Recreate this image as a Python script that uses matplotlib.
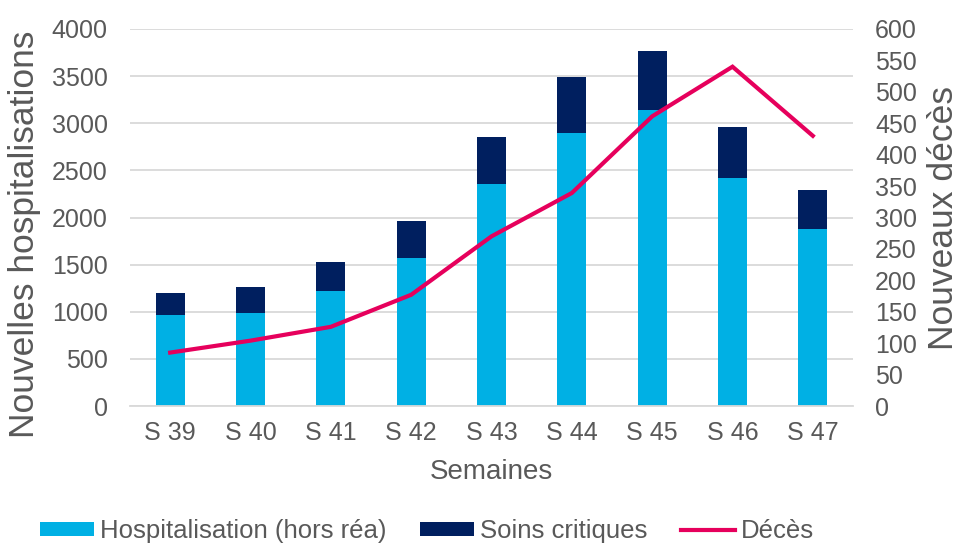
import matplotlib
matplotlib.use("Agg")
import matplotlib.pyplot as plt
from matplotlib.patches import Patch
from matplotlib.lines import Line2D
from matplotlib import font_manager

weeks = ["S 39", "S 40", "S 41", "S 42", "S 43", "S 44", "S 45", "S 46", "S 47"]
hospitalisation = [962, 983, 1224, 1574, 2355, 2900, 3141, 2423, 1878]
soins_critiques = [238, 283, 301, 389, 499, 587, 629, 541, 410]
deces = [85, 104, 126, 177, 270, 339, 461, 540, 430]

names = {f.name for f in font_manager.fontManager.ttflist}
main_font = "Liberation Sans" if "Liberation Sans" in names else "DejaVu Sans"
plt.rcParams["font.family"] = [main_font, "DejaVu Sans"]

TXT = "#595959"
LIGHT = "#00B0E4"
DARK = "#001F5F"
RED = "#E6005C"
GRID = "#D9D9D9"

fig = plt.figure(figsize=(9.6, 5.44), dpi=100)
ax = fig.add_axes([130/960, 1-406/544, (853-130)/960, (406-29)/544])
x = list(range(len(weeks)))
w = 0.36
ax.bar(x, hospitalisation, width=w, color=LIGHT, zorder=2)
ax.bar(x, soins_critiques, width=w, bottom=hospitalisation, color=DARK, zorder=2)
ax.set_ylim(0, 4000)
ax.set_xlim(-0.5, len(weeks)-0.5)
ax.set_yticks(range(0, 4001, 500))
ax.yaxis.grid(True, color=GRID, linewidth=1.3, zorder=0)
ax.set_axisbelow(True)
for s in ["top", "right", "left"]:
    ax.spines[s].set_visible(False)
ax.spines["bottom"].set_color(GRID)
ax.spines["bottom"].set_linewidth(1.3)
ax.set_xticks(x)
ax.set_xticklabels(weeks)
ax.tick_params(axis="both", length=0, labelsize=18, labelcolor=TXT)
ax.tick_params(axis="y", pad=16)
ax.tick_params(axis="x", pad=11)
ax.set_ylabel("Nouvelles hospitalisations", fontsize=25.5, color=TXT)
ax.yaxis.set_label_coords((41-130)/723, (406-234)/377)
ax.set_xlabel("Semaines", fontsize=20, color=TXT, labelpad=10)

ax2 = ax.twinx()
ax2.plot(x, deces, color=RED, linewidth=3, zorder=3, solid_joinstyle="miter")
ax2.set_ylim(0, 600)
ax2.set_yticks(range(0, 601, 50))
for s in ["top", "right", "left", "bottom"]:
    ax2.spines[s].set_visible(False)
ax2.tick_params(axis="y", length=0, labelsize=18, labelcolor=TXT, pad=16)
ax2.set_ylabel("Nouveaux décès", fontsize=25.5, color=TXT)
ax2.yaxis.set_label_coords((927-130)/723, (406-218)/377)

handles = [Patch(facecolor=LIGHT, edgecolor="none"),
           Patch(facecolor=DARK, edgecolor="none"),
           Line2D([0], [0], color=RED, linewidth=3)]
labels = ["Hospitalisation (hors réa)", "Soins critiques", "Décès"]
fig.legend(handles, labels, loc="center", bbox_to_anchor=(427/960, 1-531/544),
           ncol=3, frameon=False, handlelength=2.1, handleheight=0.5,
           handletextpad=0.23, columnspacing=1.3,
           prop={"size": 18.5}, labelcolor=TXT, borderaxespad=0, borderpad=0)

fig.savefig("out.png", dpi=100)
